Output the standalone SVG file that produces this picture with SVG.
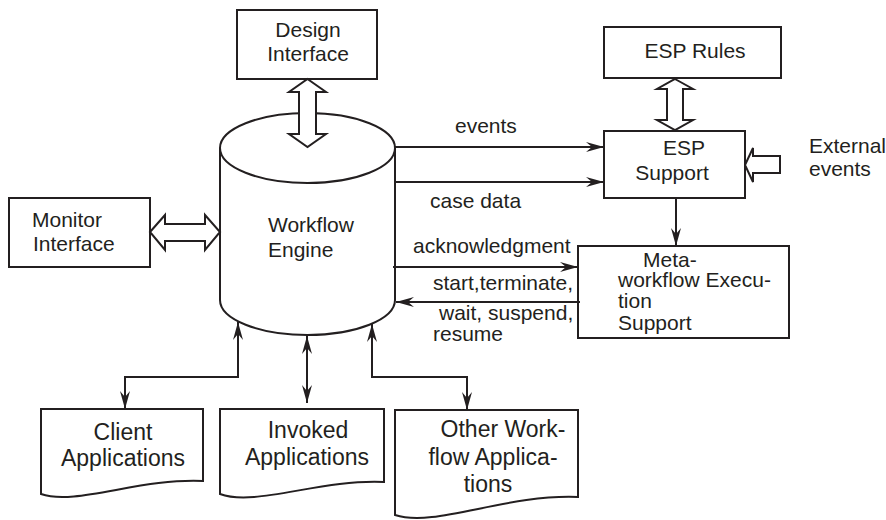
<svg xmlns="http://www.w3.org/2000/svg" width="886" height="520" viewBox="0 0 886 520">
<style>
.box{fill:#fff;stroke:#231f20;stroke-width:2}
.t{font-family:"Liberation Sans",Arial,Helvetica,sans-serif;font-size:21px;fill:#231f20}
.td{font-family:"Liberation Sans",Arial,Helvetica,sans-serif;font-size:23px;fill:#231f20}
.m{text-anchor:middle}
.ln{fill:none;stroke:#231f20;stroke-width:2}
.blk{fill:#fff;stroke:#231f20;stroke-width:2;stroke-linejoin:miter}
</style>
<defs>
<marker id="ah" viewBox="-18 -5 18 10" refX="0" refY="0" markerWidth="18" markerHeight="10" markerUnits="userSpaceOnUse" orient="auto-start-reverse">
<path d="M0,0 L-18,-5 L-12,0 L-18,5 Z" fill="#231f20"/>
</marker>
</defs>
<rect width="886" height="520" fill="#fff"/>

<g id="design-interface">
<rect class="box" x="237" y="10" width="140" height="69"/>
<text class="t m" x="308" y="37">Design</text>
<text class="t m" x="308" y="61">Interface</text>
</g>

<g id="workflow-engine">
<path class="box" d="M220,148 L220,300 A87.5,35 0 0 0 395,300 L395,148"/>
<ellipse class="box" cx="307.5" cy="148" rx="87.5" ry="35"/>
<text class="t" x="268" y="232">Workflow</text>
<text class="t" x="268" y="257">Engine</text>
</g>

<g id="monitor-interface">
<rect class="box" x="9" y="198" width="141" height="69"/>
<text class="t" x="32" y="227">Monitor</text>
<text class="t" x="33" y="251">Interface</text>
</g>

<g id="esp-rules">
<rect class="box" x="604" y="27" width="177" height="51"/>
<text class="t m" x="695" y="58">ESP Rules</text>
</g>

<g id="esp-support">
<rect class="box" x="604" y="131" width="141" height="67"/>
<text class="t m" x="684" y="155">ESP</text>
<text class="t m" x="672" y="180">Support</text>
</g>

<g id="external-events">
<text class="t" x="809" y="153">External</text>
<text class="t" x="809" y="176">events</text>
</g>

<g id="meta-workflow">
<rect class="box" x="578" y="246" width="211" height="92"/>
<text class="t" x="643" y="267">Meta-</text>
<text class="t" x="618" y="287">workflow Execu-</text>
<text class="t" x="618" y="308">tion</text>
<text class="t" x="618" y="330">Support</text>
</g>

<g id="client-applications">
<path class="box" d="M41,409 L203,409 L203,481 C140,478 75,506 41,494 Z"/>
<text class="td m" x="123" y="440">Client</text>
<text class="td m" x="123" y="466">Applications</text>
</g>

<g id="invoked-applications">
<path class="box" d="M220,409 L384,409 L384,482 C320,479 255,507 220,494 Z"/>
<text class="td m" x="308" y="438">Invoked</text>
<text class="td m" x="307" y="465">Applications</text>
</g>

<g id="other-workflow-applications">
<path class="box" d="M395,410 L578,410 L578,497 C505,494 435,528 395,515 Z"/>
<text class="td m" x="503" y="437">Other Work-</text>
<text class="td m" x="493" y="465">flow Applica-</text>
<text class="td m" x="488" y="492">tions</text>
</g>

<g id="connectors">
<polygon class="blk" points="307.5,79 326,92 316,92 316,134 326,134 307.5,147 289,134 299,134 299,92 289,92"/>
<polygon class="blk" points="675,79 693,89 683,89 683,120 693,120 675,130 657,120 667,120 667,89 657,89"/>
<polygon class="blk" points="150,232 165,215 165,224 205,224 205,215 220,232 205,250 205,241 165,241 165,250"/>
<polygon class="blk" points="745,165 753,148 753,156 780,156 780,173 753,173 753,182"/>
<path class="ln" d="M395,147 L604,147" marker-end="url(#ah)"/>
<path class="ln" d="M395,182 L604,182" marker-end="url(#ah)"/>
<path class="ln" d="M393,267 L578,267" marker-end="url(#ah)"/>
<path class="ln" d="M580,302 L396,302" marker-end="url(#ah)"/>
<path class="ln" d="M676,198 L676,246" marker-end="url(#ah)"/>
<path class="ln" d="M238,322 L238,377 L125,377 L125,409" marker-start="url(#ah)" marker-end="url(#ah)"/>
<path class="ln" d="M307,336 L307,403" marker-start="url(#ah)" marker-end="url(#ah)"/>
<path class="ln" d="M372,324 L372,377 L467,377 L467,410" marker-start="url(#ah)" marker-end="url(#ah)"/>
<text class="t" x="455" y="133">events</text>
<text class="t" x="430" y="208">case data</text>
<text class="t" x="413" y="253">acknowledgment</text>
<text class="t" x="433" y="290">start,terminate,</text>
<text class="t" x="439" y="320">wait, suspend,</text>
<text class="t" x="433" y="341">resume</text>
</g>
</svg>
